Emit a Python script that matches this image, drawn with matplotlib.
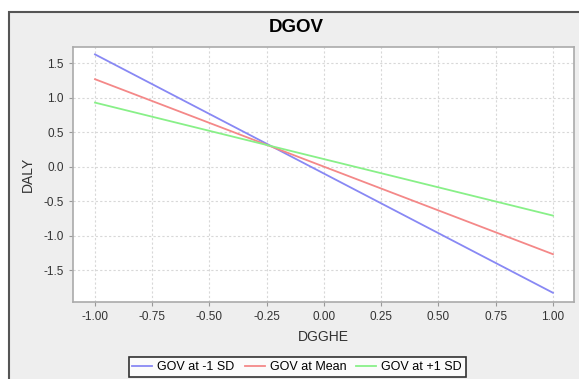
import matplotlib.pyplot as plt
from matplotlib.patches import Rectangle

plt.rcParams['font.family'] = ['Liberation Sans', 'DejaVu Sans']

dgghe = [-1.0, 1.0]
gov_low = [1.63, -1.83]
gov_mean = [1.27, -1.27]
gov_high = [0.93, -0.71]
x_ticks = [-1.0, -0.75, -0.5, -0.25, 0.0, 0.25, 0.5, 0.75, 1.0]
y_ticks = [-1.5, -1.0, -0.5, 0.0, 0.5, 1.0, 1.5]

W, H = 579, 379
fig = plt.figure(figsize=(W / 100, H / 100), dpi=100)
fig.patch.set_facecolor('white')

# grey panel with dark frame behind everything
fig.patches.append(Rectangle((9 / W, -0.05), 1.05, 1 - 12 / H + 0.05,
                             transform=fig.transFigure, facecolor='#eeeeee',
                             edgecolor='#555555', linewidth=1.5, zorder=-10))

ax = fig.add_axes([73 / W, 1 - 302 / H, (574 - 73) / W, (302 - 47) / H])
ax.set_facecolor('white')

ax.plot(dgghe, gov_low, color='#8888f4', lw=1.3, label='GOV at -1 SD')
ax.plot(dgghe, gov_mean, color='#f48888', lw=1.3, label='GOV at Mean')
ax.plot(dgghe, gov_high, color='#88f088', lw=1.3, label='GOV at +1 SD')

ax.set_xlim(-1.096, 1.092)
ax.set_ylim(-1.964, 1.737)
ax.set_xticks(x_ticks)
ax.set_yticks(y_ticks)
ax.set_xticklabels(['%.2f' % v for v in x_ticks])
ax.set_yticklabels(['%.1f' % v for v in y_ticks])
ax.tick_params(labelsize=8.5, length=3, color='#999999', labelcolor='#333333')
ax.grid(True, color='#d8d8d8', linestyle=(0, (2, 2)), linewidth=0.8)
for s in ax.spines.values():
    s.set_color('#aaaaaa')
    s.set_linewidth(1.2)

ax.set_xlabel('DGGHE', fontsize=10, color='#333333', labelpad=5)
ax.set_ylabel('DALY', fontsize=10, color='#333333', labelpad=6)
fig.text(296 / W, 1 - 28 / H, 'DGOV', fontsize=13.5, fontweight='bold',
         ha='center', va='center')

leg = fig.legend(loc='upper center', bbox_to_anchor=(297 / W, 1 - 351 / H),
                 ncol=3, fontsize=9, frameon=True, fancybox=False,
                 handlelength=1.6, handletextpad=0.4, columnspacing=0.8,
                 borderpad=0.3)
leg.get_frame().set_edgecolor('black')
leg.get_frame().set_linewidth(1.2)

fig.savefig('out.png', dpi=100)
